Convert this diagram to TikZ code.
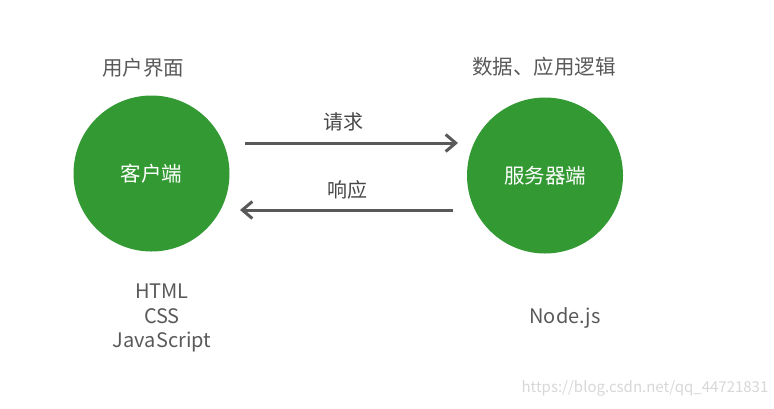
\documentclass[tikz,border=0pt]{standalone}
\usepackage{fontspec}
\setmainfont{Noto Sans CJK SC}
\usetikzlibrary{arrows.meta}
\definecolor{cgreen}{RGB}{51,153,51}
\definecolor{cgray}{RGB}{89,89,89}
\definecolor{wm}{RGB}{215,215,215}
\begin{document}
\begin{tikzpicture}[x=1pt,y=-1pt,
  circ/.style={circle,fill=cgreen,minimum size=156pt,inner sep=0pt,text=white,font=\fontsize{20.5}{24}\selectfont},
  lbl/.style={text=cgray,font=\fontsize{20.5}{24}\selectfont,inner sep=0pt},
  albl/.style={text=cgray!80!black,font=\fontsize{20}{24}\selectfont,inner sep=0pt},
  tech/.style={text=cgray,font=\fontsize{20}{24.5}\selectfont,align=center,inner sep=0pt},
  conn/.style={draw=cgray,line width=3pt,-{Straight Barb[length=10pt,width=17pt,line width=3pt]}}]
\useasboundingbox (0,0) rectangle (774,408);
\node[circ] (client) at (151.5,173.5) {客户端};
\node[circ] (server) at (545,175.5) {服务器端};
\node[lbl] (ui) at (143,68) {用户界面};
\node[lbl] (logic) at (544,67) {数据、应用逻辑};
\coordinate (r1) at (245,143);
\coordinate (r2) at (458,143);
\coordinate (s1) at (453,210);
\coordinate (s2) at (240,210);
\draw[conn] (r1) -- (r2);
\draw[conn] (s1) -- (s2);
\node[albl] (req) at (343,122) {请求};
\node[albl] (resp) at (347,190) {响应};
\node[tech] (ctech) at (162,318) {HTML\\CSS\\JavaScript};
\node[tech] (stech) at (565,318) {Node.js};
\node[text=wm,font=\fontsize{15}{18}\selectfont,inner sep=0pt] (mark) at (645,388) {https://blog.csdn.net/qq\_44721831};
\end{tikzpicture}
\end{document}
